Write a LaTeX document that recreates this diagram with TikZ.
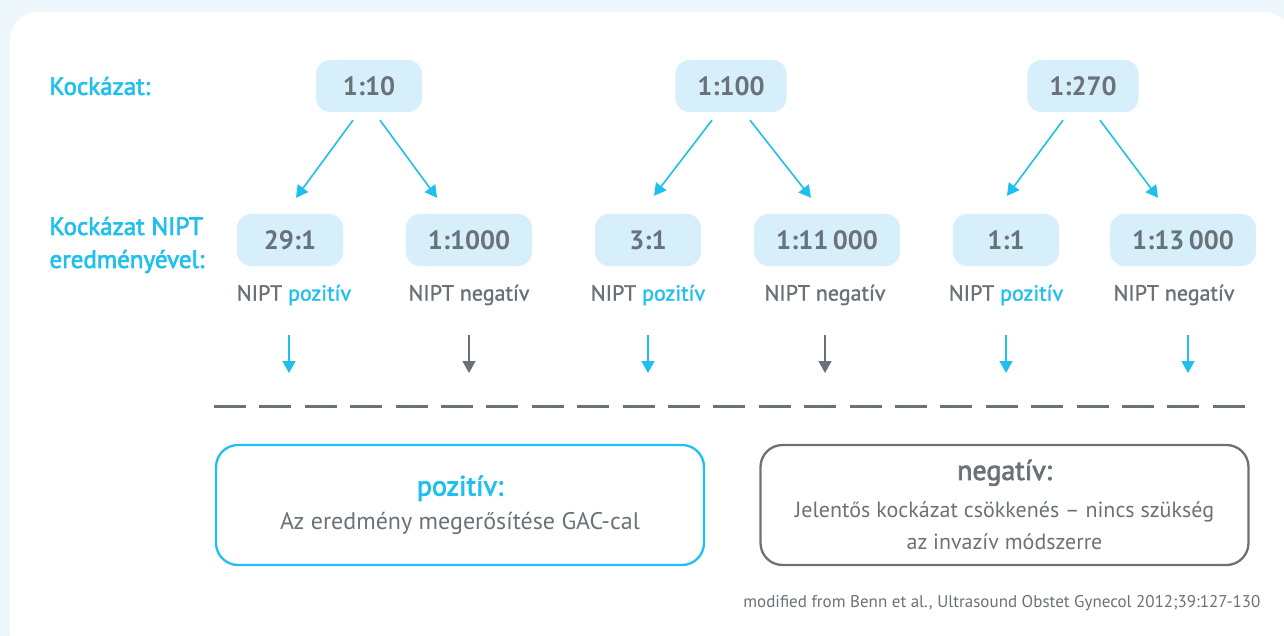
\documentclass[tikz,border=0pt]{standalone}
\usepackage{fontspec}
\setmainfont{PT Sans}
\newfontfamily\medfont[FakeBold=2.5]{PT Sans}
\newfontfamily\labfont[FakeBold=1.2]{PT Sans}
\usetikzlibrary{arrows.meta}
\definecolor{nipcyan}{HTML}{1FC0EF}
\definecolor{nipgray}{HTML}{6A7279}
\definecolor{nipfill}{HTML}{D7EFFB}
\definecolor{nipbg}{HTML}{EDF7FC}
\begin{document}
\begin{tikzpicture}[x=1pt,y=-1pt,
    ratio/.style={fill=nipfill,rounded corners=14pt,minimum width=106pt,minimum height=52pt,inner xsep=22pt,text=nipgray,font=\bfseries\fontsize{26.5}{30}\selectfont},
    res/.style={text=nipgray,font=\labfont\fontsize{22}{24}\selectfont},
    head/.style={text=nipcyan,align=left,anchor=west,font=\medfont\fontsize{25}{33}\selectfont},
    bluearr/.style={draw=nipcyan,line width=1.6pt,-{Triangle[width=13pt,length=12pt]}},
    grayarr/.style={bluearr,draw=nipgray},
    outcome/.style={draw=#1,line width=2.3pt,rounded corners=22pt,minimum width=488pt,minimum height=120pt,align=center,text=nipgray}]
    \useasboundingbox (0,0) rectangle (1284,636);
    \fill[nipbg] (0,0) rectangle (1284,636);
    \fill[white,rounded corners=28pt] (10,12) rectangle (1292,660);
    % left headings
    \node[head] (h1) at (46,86) {Kockázat:};
    \node[head] (h2) at (46,245) {Kockázat NIPT\\eredményével:};
    % risk before the test
    \node[ratio] (t1) at (369,86) {1:10};
    \node[ratio] (t2) at (731,86) {1:100};
    \node[ratio] (t3) at (1083,86) {1:270};
    % risk with the NIPT result
    \node[ratio] (r1) at (290,240) {29:1};
    \node[ratio] (r2) at (469,240) {1:1000};
    \node[ratio] (r3) at (648,240) {3:1};
    \node[ratio] (r4) at (827,240) {1:11\,000};
    \node[ratio] (r5) at (1006,240) {1:1};
    \node[ratio] (r6) at (1183,240) {1:13\,000};
    \node[res] (l1) at (294,295) {NIPT \textcolor{nipcyan}{pozitív}};
    \node[res] (l2) at (469,295) {NIPT negatív};
    \node[res] (l3) at (648,295) {NIPT \textcolor{nipcyan}{pozitív}};
    \node[res] (l4) at (825,295) {NIPT negatív};
    \node[res] (l5) at (1006,295) {NIPT \textcolor{nipcyan}{pozitív}};
    \node[res] (l6) at (1174,295) {NIPT negatív};
    \draw[bluearr] ([xshift=-16pt,yshift=-8pt]t1.south) -- ([xshift=6pt,yshift=16pt]r1.north);
    \draw[bluearr] ([xshift=11pt,yshift=-8pt]t1.south) -- ([xshift=-32pt,yshift=16pt]r2.north);
    \draw[bluearr] ([xshift=-19pt,yshift=-8pt]t2.south) -- ([xshift=6pt,yshift=18pt]r3.north);
    \draw[bluearr] ([xshift=19pt,yshift=-8pt]t2.south) -- ([xshift=-16pt,yshift=16pt]r4.north);
    \draw[bluearr] ([xshift=-20pt,yshift=-8pt]t3.south) -- ([xshift=1pt,yshift=18pt]r5.north);
    \draw[bluearr] ([xshift=17pt,yshift=-8pt]t3.south) -- ([xshift=-25pt,yshift=16pt]r6.north);
    % down arrows
    \coordinate (d1) at (289,373);
    \coordinate (d2) at (469,373);
    \coordinate (d3) at (648,373);
    \coordinate (d4) at (825,373);
    \coordinate (d5) at (1006,373);
    \coordinate (d6) at (1188,373);
    \draw[bluearr] (d1) ++(0,-38) -- (d1);
    \draw[grayarr] (d2) ++(0,-38) -- (d2);
    \draw[bluearr] (d3) ++(0,-38) -- (d3);
    \draw[grayarr] (d4) ++(0,-38) -- (d4);
    \draw[bluearr] (d5) ++(0,-38) -- (d5);
    \draw[bluearr] (d6) ++(0,-38) -- (d6);
    \draw[nipgray,line width=3pt,dash pattern=on 32pt off 13.4pt] (214,406) -- (1246,406);
    % outcomes
    \node[outcome=nipcyan,font=\fontsize{24}{32}\selectfont] (pos) at (460,505)
        {{\medfont\fontsize{28}{32}\selectfont\color{nipcyan}pozitív:}\\[2pt]Az eredmény megerősítése GAC-cal};
    \node[outcome=nipgray,font=\fontsize{22}{32}\selectfont] (neg) at (1004.5,505)
        {{\medfont\fontsize{28}{32}\selectfont negatív:}\\[6pt]Jelentős kockázat csökkenés – nincs szükség\\az invazív módszerre};
    \node[text=nipgray,anchor=east,font=\fontsize{17}{20}\selectfont] (src) at (1264,603)
        {modified from Benn et al., Ultrasound Obstet Gynecol 2012;39:127-130};
\end{tikzpicture}
\end{document}
